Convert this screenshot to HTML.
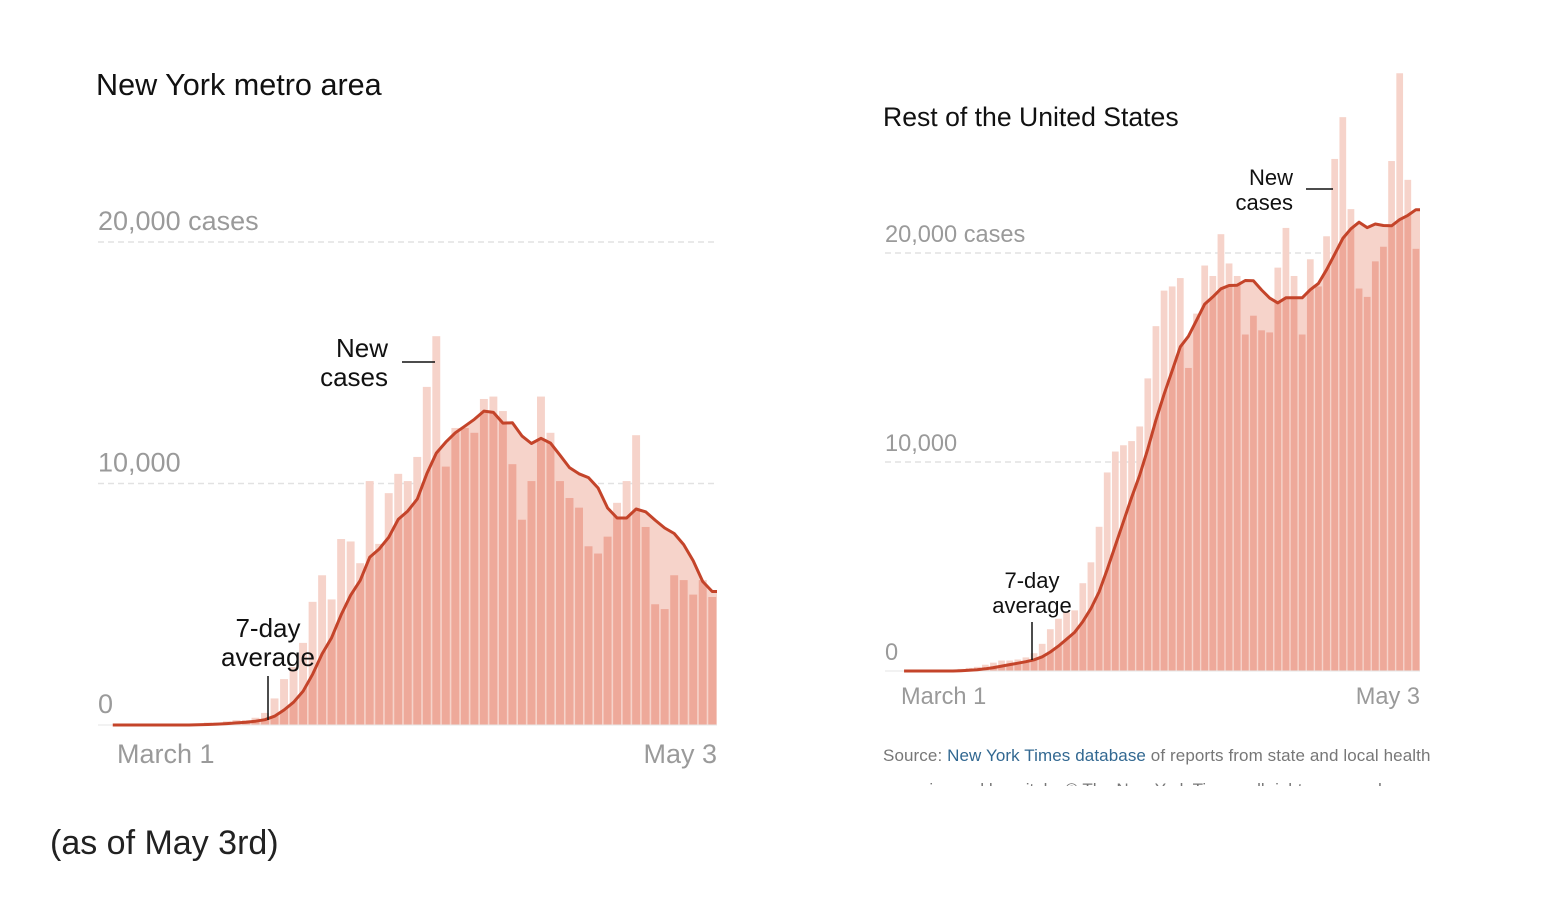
<!DOCTYPE html>
<html><head><meta charset="utf-8">
<style>
html,body{margin:0;padding:0;background:#fff;}
body{width:1552px;height:898px;overflow:hidden;position:relative;font-family:"Liberation Sans",sans-serif;}
svg{position:absolute;left:0;top:0;}
</style></head>
<body>
<svg id="chart" width="1552" height="898" viewBox="0 0 1552 898">
  <defs>
    <clipPath id="clipL"><path id="clipLpath"/></clipPath>
    <clipPath id="clipR"><path id="clipRpath"/></clipPath>
    <clipPath id="srcClip"><rect x="870" y="775" width="600" height="11"/></clipPath>
  </defs>
  <text x="96" y="95" font-size="30.6" fill="#111">New York metro area</text>
  <text x="883" y="126" font-size="26.6" fill="#111">Rest of the United States</text>
  <g id="left"></g>
  <g id="right"></g>
  <text x="883" y="761" font-size="17" fill="#777" letter-spacing="0.1">Source: <tspan fill="#326891">New York Times database</tspan> of reports from state and local health</text>
  <text x="883" y="795" font-size="17" fill="#777" clip-path="url(#srcClip)">agencies and hospitals. © The New York Times, all rights reserved.</text>
  <text x="50" y="854" font-size="34" fill="#222">(as of May 3rd)</text>
</svg>
<script>
const leftValues = [0,0,0,0,0,0,0,0,0,0.05,0.1,0.1,0.15,0.2,0.2,0.3,
0.5,1.1,1.9,2.4,3.4,5.1,6.2,5.2,7.7,7.6,6.7,10.1,7.5,9.6,10.4,10.1,11.1,14.0,16.1,10.7,12.3,12.3,12.1,13.5,13.6,13.0,10.8,8.5,10.1,13.6,12.1,10.1,9.4,9.0,7.4,7.1,7.8,9.2,10.1,12.0,8.2,5.0,4.8,6.2,6.0,5.4,6.0,5.3];
const rightValues = [0,0,0,0,0,0,0,0.1,0.15,0.2,0.3,0.4,0.5,0.5,0.55,0.65,0.85,1.3,2.0,2.5,2.8,2.9,4.2,5.2,6.9,9.5,10.5,10.8,11.0,11.7,
14.0,16.5,18.2,18.4,18.8,14.5,17.1,19.4,18.9,20.9,19.5,18.9,16.1,17.0,16.3,16.2,19.3,21.2,18.9,16.1,19.7,18.4,20.8,24.5,26.5,22.1,18.3,17.9,19.6,20.3,24.4,28.6,23.5,20.2];
const leftTicks = ["0","10,000","20,000 cases"];
const rightTicks = ["0","10,000","20,000 cases"];
const tickValues = [0,10,20];
const dateLabels = ["March 1","May 3"];

const NS="http://www.w3.org/2000/svg";
function mk(tag,attrs,parent){const e=document.createElementNS(NS,tag);for(const k in attrs)e.setAttribute(k,attrs[k]);parent.appendChild(e);return e;}
function avg7(v){return v.map((_,i)=>{const s=v.slice(Math.max(0,i-6),i+1);return s.reduce((a,b)=>a+b,0)/s.length;});}

function draw(g,values,ticks,cfg){
  const n=values.length, step=(cfg.x1-cfg.x0)/n;
  const xs=i=>cfg.x0+(i+0.5)*step;
  const ys=v=>cfg.y0-v*cfg.k;
  tickValues.forEach((t,j)=>{
    if(t>0){const l=mk('line',{x1:cfg.gx,x2:cfg.x1,y1:ys(t),y2:ys(t),stroke:'#e2e2e2','stroke-width':1.5,'stroke-dasharray':'6,4'},g);
      
      }
    const tx=mk('text',{x:cfg.gx,y:ys(t)-cfg.tickOff,'font-size':cfg.tfs,fill:'#9a9a9a'},g);
    tx.textContent=ticks[j];
    
    
  });
  const a=avg7(values);
  let d='M'+xs(0)+','+ys(0);
  a.forEach((v,i)=>{d+=' L'+xs(i).toFixed(1)+','+ys(v).toFixed(1);});
  d+=' L'+cfg.x1+','+ys(a[n-1]).toFixed(1);
  const area=d+' L'+cfg.x1+','+cfg.y0+' L'+xs(0)+','+cfg.y0+' Z';
  document.getElementById(cfg.clip+'path').setAttribute('d',area);
  const ar=mk('path',{d:area,fill:'#f6d3ca'},g);
  
  
  const bw=step-cfg.gap;
  values.forEach((v,i)=>{
    const r=mk('rect',{x:xs(i)-bw/2,y:ys(v),width:bw,height:v*cfg.k,fill:'#f6d3ca'},g);
    
    
  });
  const dg=mk('g',{'clip-path':'url(#'+cfg.clip+')'},g);
  
  
  values.forEach((v,i)=>{
    const r=mk('rect',{x:xs(i)-bw/2,y:ys(v),width:bw,height:v*cfg.k,fill:'#eea99a'},dg);
    
    
  });
  const bl=mk('line',{x1:cfg.gx,x2:cfg.x1,y1:cfg.y0,y2:cfg.y0,stroke:'#e6e6e6','stroke-width':1},g);
  
  
  const ln=mk('path',{d:d,fill:'none',stroke:'#c4442a','stroke-width':3,'stroke-linejoin':'round'},g);
  
  
  const t1=mk('text',{x:cfg.x0+cfg.dOff,y:cfg.y0+cfg.dy,'font-size':cfg.tfs,fill:'#9a9a9a'},g);
  t1.textContent=dateLabels[0];
  
  
  const t2=mk('text',{x:cfg.x1,y:cfg.y0+cfg.dy,'font-size':cfg.tfs,fill:'#9a9a9a','text-anchor':'end'},g);
  t2.textContent=dateLabels[1];
  
  
  const an=cfg.ann;
  const n1=mk('text',{x:an.nx,y:an.ny,'font-size':an.fs,fill:'#111','text-anchor':'end'},g);
  n1.textContent='New';
  
  
  const n2=mk('text',{x:an.nx,y:an.ny+an.lh,'font-size':an.fs,fill:'#111','text-anchor':'end'},g);
  n2.textContent='cases';
  
  
  const nl=mk('line',{x1:an.lx1,x2:an.lx2,y1:an.ly,y2:an.ly,stroke:'#111','stroke-width':1.5},g);
  
  
  const s1=mk('text',{x:an.ax,y:an.ay,'font-size':an.fs,fill:'#111','text-anchor':'middle'},g);
  s1.textContent='7-day';
  
  
  const s2=mk('text',{x:an.ax,y:an.ay+an.lh,'font-size':an.fs,fill:'#111','text-anchor':'middle'},g);
  s2.textContent='average';
  
  
  const sl=mk('line',{x1:an.ax,x2:an.ax,y1:an.vy1,y2:an.vy2,stroke:'#111','stroke-width':1.5},g);
  
  
}
draw(document.getElementById('left'),leftValues,leftTicks,{x0:108,x1:717,y0:725,k:24.15,gx:98,gap:1.6,clip:'clipL',tfs:27,tickOff:12,dOff:9,dy:38,
  ann:{nx:388,ny:357,lh:29,fs:26,lx1:402,lx2:435,ly:362,ax:268,ay:637,vy1:676,vy2:720}});
draw(document.getElementById('right'),rightValues,rightTicks,{x0:900,x1:1420,y0:671,k:20.9,gx:885,gap:1.4,clip:'clipR',tfs:23.6,tickOff:11,dOff:1,dy:33,
  ann:{nx:1293,ny:185,lh:25,fs:22,lx1:1306,lx2:1333,ly:189,ax:1032,ay:588,vy1:622,vy2:660}});
</script>
</body></html>
